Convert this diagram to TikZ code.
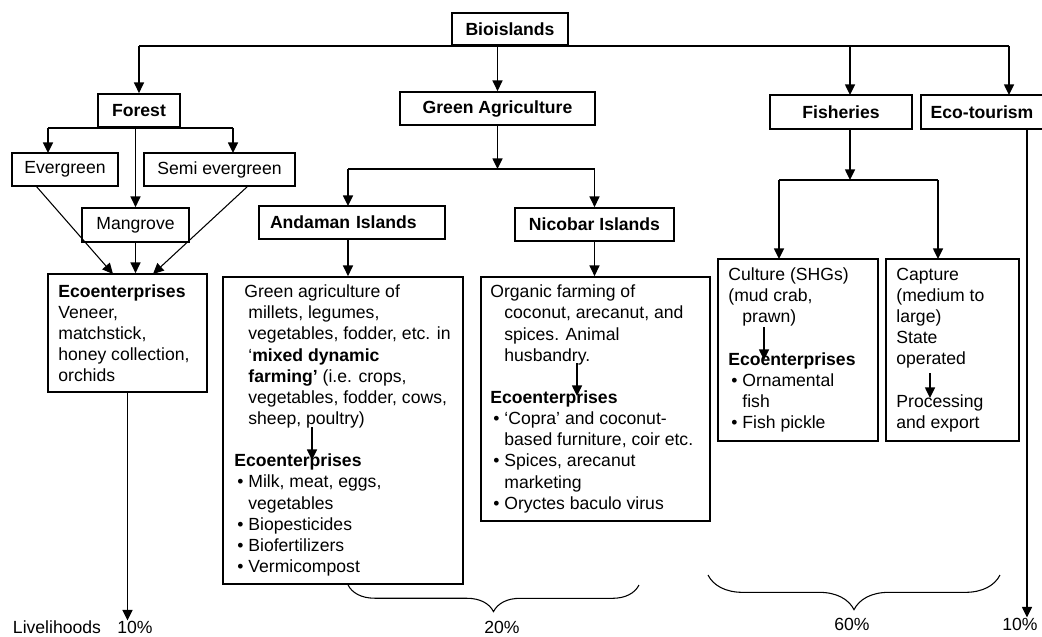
\documentclass[tikz,border=0pt]{standalone}
\usepackage{fontspec}
\setmainfont{Liberation Sans}
\usetikzlibrary{arrows.meta, decorations.pathreplacing, positioning}

\newcommand{\bodyfont}{\fontsize{13.2}{15.86}\selectfont}
\newcommand{\ind}{\hspace*{10.5pt}}
\newcommand{\bul}{\makebox[10.5pt][l]{\hspace{2.25pt}\textbullet}}

\tikzset{
    box/.style={draw, line width=1.3pt},
    head/.style={font=\bodyfont\bfseries},
    sz/.style 2 args={minimum width=#1*0.75pt, minimum height=#2*0.75pt, inner sep=0pt},
    txt/.style={anchor=west, align=left, inner sep=0pt},
    link/.style={line width=1.1pt},
    arr/.style={line width=1.1pt, -{Triangle[length=8pt, width=7.5pt]}},
    slim/.style={line width=0.8pt}
}

\begin{document}
\begin{tikzpicture}[x=0.75pt, y=-0.75pt, font=\bodyfont]
    \useasboundingbox (0,0) rectangle (1042,636);

    % top level
    \node[box, head, sz={116}{32}] (bio) at (510,29) {Bioislands};
    \node[box, head, sz={82}{33}] (forest) at (139,110.5) {Forest};
    \node[box, head, sz={195}{33}] (green) at (497.5,108.5) {Green Agriculture};
    \node[box, head, sz={142}{34}] (fish) at (841,112) {Fisheries};
    \node[box, head, sz={122}{34}] (eco) at (982,112) {Eco-tourism};
    \coordinate (fishin) at (850,95);
    \coordinate (ecoin) at (1009,95);

    \draw[link] (bio.south -| forest.north) -- (bio.south -| ecoin);
    \foreach \t in {forest.north, green.north, fishin, ecoin} {
        \draw[arr] (bio.south -| \t) -- (\t);
    }

    % forest
    \node[box, sz={106}{33}] (ever) at (65,169.5) {Evergreen};
    \node[box, sz={151}{33}] (semi) at (219.5,169.5) {Semi evergreen};
    \node[box, sz={107}{34}] (mangrove) at (135.5,225) {Mangrove};
    \node[box, sz={159}{118}] (foreco) at (127.5,333) {};
    \node[txt] (forecot) at ([xshift=8.25pt]foreco.west) {%
        \textbf{Ecoenterprises}\\
        Veneer,\\
        matchstick,\\
        honey collection,\\
        orchids};
    \coordinate (evin) at (48,153);
    \coordinate (semin) at (233,153);
    \coordinate (evout) at (36,186);
    \coordinate (semout) at (248,186);
    \coordinate (fin1) at (113,274);
    \coordinate (fin3) at (153,274);

    \draw[link] (forest.south -| evin) -- (forest.south -| semin);
    \draw[arr] (forest.south -| evin) -- (evin);
    \draw[arr] (forest.south -| semin) -- (semin);
    \draw[arr] (forest.south -| mangrove.north) -- (mangrove.north);
    \draw[arr, slim] (evout) -- (fin1);
    \draw[arr, slim] (semout) -- (fin3);
    \draw[arr] (mangrove.south) -- (mangrove.south |- foreco.north);

    % green agriculture
    \node[box, head, sz={186}{33}, text width=123pt, inner xsep=8.25pt, align=left] (andaman) at (352,222.5) {Andaman Islands};
    \node[box, head, sz={159}{33}] (nicobar) at (594.5,224.5) {Nicobar Islands};
    \coordinate (agbar) at (0,169);
    \coordinate (andin) at (348,206);

    \draw[arr] (green.south) -- (green.south |- agbar);
    \draw[link] (agbar -| andin) -- (agbar -| nicobar.north);
    \draw[arr] (agbar -| andin) -- (andin);
    \draw[arr] (agbar -| nicobar.north) -- (nicobar.north);

    \node[box, sz={240}{307}] (andtxt) at (343,430.5) {};
    \node[txt] (andtxtt) at ([xshift=9pt]andtxt.west) {%
        \hspace*{7.5pt}Green agriculture of\\
        \ind millets, legumes,\\
        \ind vegetables, fodder, etc. in\\
        \ind ‘\textbf{mixed dynamic}\\
        \ind \textbf{farming’} (i.e. crops,\\
        \ind vegetables, fodder, cows,\\
        \ind sheep, poultry)\\[15.86pt]
        \textbf{Ecoenterprises}\\
        \bul Milk, meat, eggs,\\
        \ind vegetables\\
        \bul Biopesticides\\
        \bul Biofertilizers\\
        \bul Vermicompost};
    \node[box, sz={229}{244}] (nictxt) at (595.5,399) {};
    \node[txt] (nictxtt) at ([xshift=7.5pt]nictxt.west) {%
        Organic farming of\\
        \ind coconut, arecanut, and\\
        \ind spices. Animal\\
        \ind husbandry.\\[15.86pt]
        \textbf{Ecoenterprises}\\
        \bul ‘Copra’ and coconut-\\
        \ind based furniture, coir etc.\\
        \bul Spices, arecanut\\
        \ind marketing\\
        \bul Oryctes baculo virus};

    \draw[arr] (andaman.south -| andin) -- (andin |- andtxt.north);
    \draw[arr] (nicobar.south) -- (nicobar.south |- nictxt.north);
    \coordinate (and1) at (312,427);
    \coordinate (and2) at (312,460);
    \coordinate (nic1) at (577,363);
    \coordinate (nic2) at (577,396);
    \draw[arr] (and1) -- (and2);
    \draw[arr] (nic1) -- (nic2);

    % fisheries
    \node[box, sz={160}{182}] (culture) at (798,350) {};
    \node[txt] (culturet) at ([xshift=8.25pt]culture.west) {%
        Culture (SHGs)\\
        (mud crab,\\
        \ind prawn)\\[15.86pt]
        \textbf{Ecoenterprises}\\
        \bul Ornamental\\
        \ind fish\\
        \bul Fish pickle};
    \node[box, sz={133}{182}] (capture) at (952.5,350) {};
    \node[txt] (capturet) at ([xshift=8.25pt]capture.west) {%
        Capture\\
        (medium to\\
        large)\\
        State\\
        operated\\[15.86pt]
        Processing\\
        and export};
    \coordinate (fishbar) at (0,180);
    \coordinate (culin) at (779,259);
    \coordinate (capin) at (938,259);

    \draw[arr] (fish.south -| fishin) -- (fishbar -| fishin);
    \draw[link] (fishbar -| culin) -- (fishbar -| capin);
    \draw[arr] (fishbar -| culin) -- (culin);
    \draw[arr] (fishbar -| capin) -- (capin);
    \coordinate (cul1) at (764,327);
    \coordinate (cul2) at (764,360);
    \coordinate (cap1) at (930,373);
    \coordinate (cap2) at (930,398);
    \draw[arr] (cul1) -- (cul2);
    \draw[arr] (cap1) -- (cap2);

    % shares
    \node[inner sep=0pt] (livelihoods) at (57,627) {Livelihoods};
    \node[inner sep=0pt] (pforest) at (135,627) {10\%};
    \node[inner sep=0pt] (pagri) at (502,627) {20\%};
    \node[inner sep=0pt] (pfish) at (852,624) {60\%};
    \node[inner sep=0pt] (peco) at (1020,624) {10\%};
    \coordinate (ecoout) at (1027,129);
    \coordinate (agend) at (639,585);
    \coordinate (fbeg) at (708,575);
    \coordinate (fend) at (1000,575);

    \draw[arr] (foreco.south) -- (foreco.south |- pforest.north);
    \draw[arr] (ecoout) -- (ecoout |- peco.north);
    \draw[slim, decorate, decoration={brace, mirror, amplitude=20pt}] (andtxt.south -| andin) -- (agend);
    \draw[slim, decorate, decoration={brace, mirror, amplitude=26pt}] (fbeg) -- (fend);
\end{tikzpicture}
\end{document}
